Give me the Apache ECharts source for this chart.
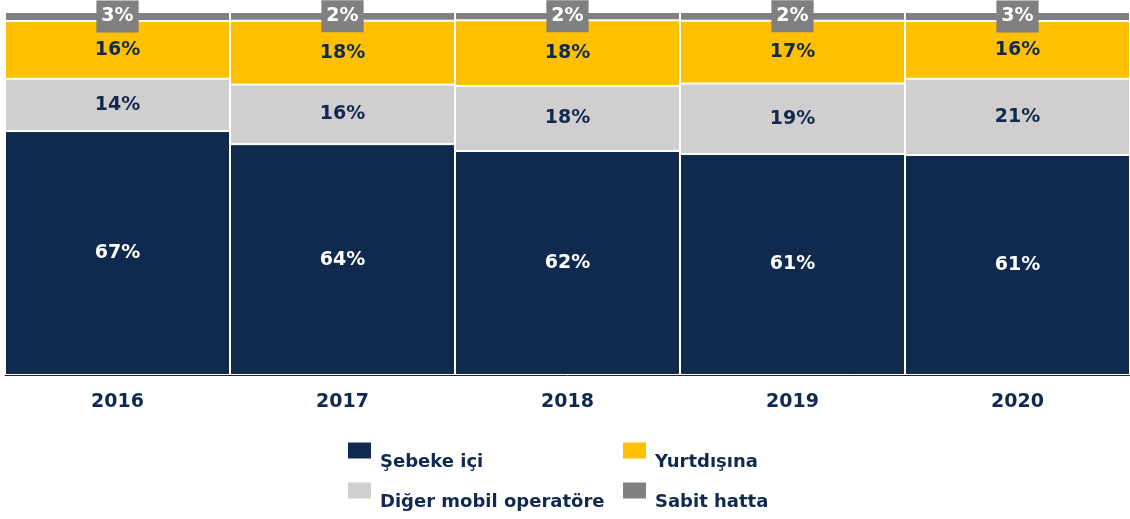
<!DOCTYPE html>
<html>
<head>
<meta charset="utf-8">
<script src="https://cdn.jsdelivr.net/npm/echarts@6/dist/echarts.min.js"></script>
<style>
    html, body { margin: 0; padding: 0; background: #fff; }
    #chart { width: 1130px; height: 519px; }
</style>
</head>
<body>
<div id="chart"></div>
<script>
// 年份
const years = ['2016', '2017', '2018', '2019', '2020'];
// 各类通话占比（%）
const sebekeIci = [67.2, 63.6, 61.7, 60.9, 60.6];
const digerMobil = [14.4, 16.4, 17.9, 19.4, 21.0];
const yurtdisina = [15.9, 17.6, 18.1, 17.3, 15.9];
const sabitHatta = [2.5, 2.4, 2.3, 2.4, 2.5];

const NAVY = '#0f2a4e';
const FONT = 'Verdana, "DejaVu Sans"';
const FS = 19;

const pct = p => Math.round(p.value) + '%';

function barSeries(name, data, color, labelColor) {
    return {
        name: name,
        type: 'bar',
        stack: 'total',
        data: data,
        barCategoryGap: 0,
        itemStyle: { color: color, borderColor: '#fff', borderWidth: 1 },
        label: {
            show: true,
            position: 'inside',
            color: labelColor,
            fontFamily: FONT,
            fontWeight: 'bold',
            fontSize: FS,
            formatter: pct,
        },
    };
}

const topSeries = barSeries('Sabit hatta', sabitHatta, '#808080', '#fff');
topSeries.label.backgroundColor = '#808080';
topSeries.label.padding = [5, 5, 5, 5];
topSeries.label.lineHeight = 22;

function legendOpt(left, names) {
    return {
        orient: 'vertical',
        left: left,
        top: 430,
        height: 200,
        padding: 0,
        icon: 'rect',
        itemWidth: 25,
        itemHeight: 18,
        itemGap: -1,
        selectedMode: false,
        formatter: name => '{t|' + name + '}',
        textStyle: {
            rich: {
                t: {
                    color: NAVY,
                    fontFamily: FONT,
                    fontWeight: 'bold',
                    fontSize: 18,
                    lineHeight: 22,
                    padding: [23, 0, 0, 3],
                },
            },
        },
        data: names,
    };
}

const myChart = echarts.init(document.getElementById('chart'), null, { renderer: 'canvas' });
myChart.setOption({
    animation: false,
    grid: { left: 5, right: 0, top: 12, bottom: 144 },
    legend: [
        legendOpt(346, ['Şebeke içi', 'Diğer mobil operatöre']),
        legendOpt(621, ['Yurtdışına', 'Sabit hatta']),
    ],
    xAxis: {
        type: 'category',
        data: years,
        axisLine: { lineStyle: { color: NAVY, width: 1 } },
        axisTick: { show: false },
        axisLabel: {
            color: NAVY,
            fontFamily: FONT,
            fontWeight: 'bold',
            fontSize: FS,
            margin: 18,
        },
    },
    yAxis: { type: 'value', min: 0, max: 100, show: false },
    series: [
        barSeries('Şebeke içi', sebekeIci, NAVY, '#fff'),
        barSeries('Diğer mobil operatöre', digerMobil, '#d0cece', NAVY),
        barSeries('Yurtdışına', yurtdisina, '#ffc000', NAVY),
        topSeries,
    ],
});
window.addEventListener('resize', () => {
    myChart.resize();
});
</script>
</body>
</html>
